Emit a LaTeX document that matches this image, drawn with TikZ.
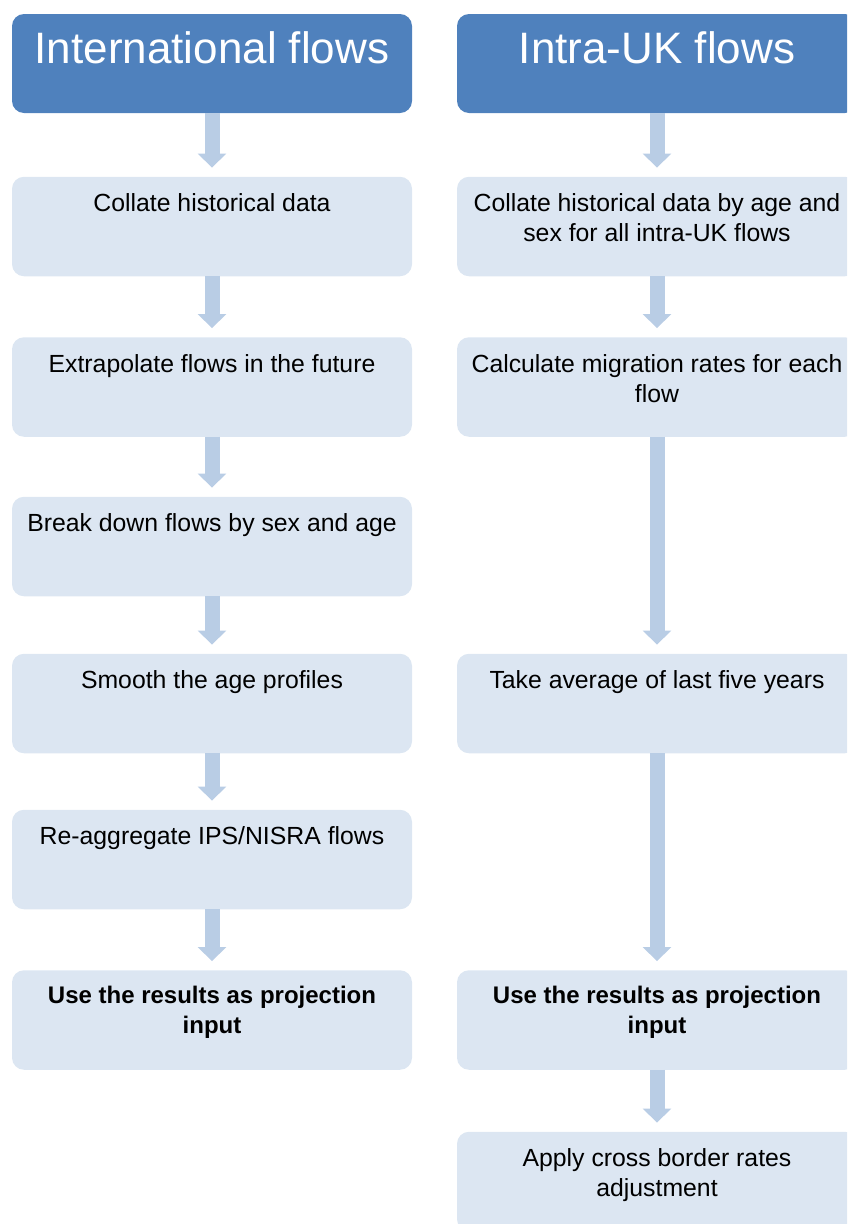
\documentclass[tikz,border=0pt]{standalone}
\usepackage{fontspec}
\setmainfont{Liberation Sans}
\usetikzlibrary{arrows.meta}
\definecolor{hdr}{HTML}{4F81BD}
\definecolor{stepfill}{HTML}{DCE6F2}
\definecolor{arr}{HTML}{B9CDE5}
\begin{document}
\begin{tikzpicture}[x=1pt,y=-1pt,
 hdrbox/.style={rectangle, rounded corners=12pt, fill=hdr, minimum width=400pt, minimum height=99pt, inner sep=0pt},
 stepbox/.style={rectangle, rounded corners=12pt, fill=stepfill, minimum width=400pt, minimum height=99.5pt, inner sep=0pt},
 hdrtext/.style={anchor=north, inner sep=0pt, text=white, font=\fontsize{44}{50}\selectfont},
 steptext/.style={anchor=north, inner sep=0pt, align=center, font=\fontsize{24.8}{30}\selectfont, text=black},
 boldtext/.style={steptext, font=\fontsize{24}{30}\selectfont\bfseries},
 flow/.style={draw=arr, line width=15pt, -{Triangle[width=28pt,length=14pt]}, shorten >=9pt}]
\clip (0,0) rectangle (847,1224);
% left column
\node[hdrbox] (Lh) at (212,63.5) {};
\node[hdrtext] (Lht) at ([yshift=-18pt]Lh.north) {International flows};
\node[stepbox] (L1) at (212,226.5) {};
\node[steptext] (L1t) at ([yshift=-17pt]L1.north) {Collate historical data};
\node[stepbox] (L2) at (212,387) {};
\node[steptext] (L2t) at ([yshift=-17pt]L2.north) {Extrapolate flows in the future};
\node[stepbox] (L3) at (212,546.5) {};
\node[steptext] (L3t) at ([yshift=-17pt]L3.north) {Break down flows by sex and age};
\node[stepbox] (L4) at (212,703.5) {};
\node[steptext] (L4t) at ([yshift=-17pt]L4.north) {Smooth the age profiles};
\node[stepbox] (L5) at (212,859.5) {};
\node[steptext] (L5t) at ([yshift=-17pt]L5.north) {Re-aggregate IPS/NISRA flows};
\node[stepbox] (L6) at (212,1020) {};
\node[boldtext] (L6t) at ([yshift=-16pt]L6.north) {Use the results as projection\\input};
% right column
\node[hdrbox] (Rh) at (657,63.5) {};
\node[hdrtext] (Rht) at ([yshift=-18pt]Rh.north) {Intra-UK flows};
\node[stepbox] (R1) at (657,226.5) {};
\node[steptext] (R1t) at ([yshift=-17pt]R1.north) {Collate historical data by age and\\sex for all intra-UK flows};
\node[stepbox] (R2) at (657,387) {};
\node[steptext] (R2t) at ([yshift=-17pt]R2.north) {Calculate migration rates for each\\flow};
\node[stepbox] (R3) at (657,703.5) {};
\node[steptext] (R3t) at ([yshift=-17pt]R3.north) {Take average of last five years};
\node[stepbox] (R4) at (657,1020) {};
\node[boldtext] (R4t) at ([yshift=-16pt]R4.north) {Use the results as projection\\input};
\node[stepbox] (R5) at (657,1181.5) {};
\node[steptext] (R5t) at ([yshift=-17pt]R5.north) {Apply cross border rates\\adjustment};
% connectors
\draw[flow] (Lh.south) -- (L1.north);
\draw[flow] (L1.south) -- (L2.north);
\draw[flow] (L2.south) -- (L3.north);
\draw[flow] (L3.south) -- (L4.north);
\draw[flow] (L4.south) -- (L5.north);
\draw[flow] (L5.south) -- (L6.north);
\draw[flow] (Rh.south) -- (R1.north);
\draw[flow] (R1.south) -- (R2.north);
\draw[flow] (R2.south) -- (R3.north);
\draw[flow] (R3.south) -- (R4.north);
\draw[flow] (R4.south) -- (R5.north);
\end{tikzpicture}
\end{document}
